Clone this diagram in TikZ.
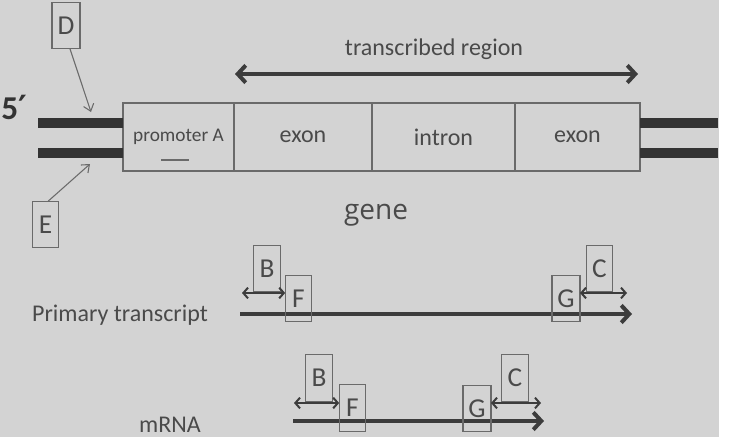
\documentclass[tikz,border=0pt]{standalone}
\usepackage{fontspec}
\setmainfont{Carlito}
\newfontfamily\genefont{Open Sans}
\newfontfamily\primefont{DejaVu Sans}
\usetikzlibrary{arrows.meta}
\definecolor{bggray}{HTML}{D3D3D3}
\definecolor{boxline}{HTML}{6A6A6A}
\definecolor{strandcol}{HTML}{333333}
\definecolor{arrowcol}{HTML}{3C3C3C}
\definecolor{txt}{HTML}{4A4A4A}
\tikzset{segbox/.style={
    rectangle,
    draw=boxline,
    line width=1.2pt,
    minimum height=51pt,
    inner sep=0pt,
    outer sep=0pt,
    text=txt,
    font=\fontsize{18}{20}\selectfont
  },
  lbox/.style={segbox,line width=0.9pt,minimum width=20pt,minimum height=35pt,
    font=\fontsize{20.5}{22}\selectfont},
  lbl/.style={text=txt,font=\fontsize{18}{20}\selectfont},
  strand/.style={draw=strandcol,line width=7.5pt},
  pointer/.style={draw=boxline,line width=0.8pt,-{Straight Barb[length=5pt,width=8pt]}},
  span/.style={draw=arrowcol,line width=3pt,
    {Straight Barb[length=6pt,width=13pt]}-{Straight Barb[length=6pt,width=13pt]}},
  track/.style={draw=arrowcol,line width=3pt,-{Straight Barb[length=6pt,width=13pt]}},
  piece/.style={draw=arrowcol,line width=1.5pt,
    {Straight Barb[length=3.5pt,width=8pt]}-{Straight Barb[length=3.5pt,width=8pt]}},
}
\begin{document}
\begin{tikzpicture}[x=0.75pt,y=-0.75pt]
  \fill[bggray] (0,0) rectangle (719,437);
  \useasboundingbox (0,0) rectangle (732,440);
  % gene
  \node [segbox,minimum width=83.25pt,font=\fontsize{14.5}{16}\selectfont] (promoter) at (178.5,137) {promoter A};
  \node [segbox,minimum width=103.5pt,anchor=west] (exon1) at (promoter.east) {exon};
  \node [segbox,minimum width=107.25pt,anchor=west] (intron) at (exon1.east) {intron};
  \node [segbox,minimum width=93.75pt,anchor=west] (exon2) at (intron.east) {exon};
  \draw[boxline,line width=0.8pt] (161,160) -- (189,160);
  \coordinate (l1) at (38,123);
  \coordinate (l2) at (38,153);
  \coordinate (r1) at (718,123);
  \coordinate (r2) at (718,153);
  \draw[strand] (l1) -- (l1 -| promoter.west);
  \draw[strand] (l2) -- (l2 -| promoter.west);
  \draw[strand] (exon2.east |- r1) -- (r1);
  \draw[strand] (exon2.east |- r2) -- (r2);
  \node [text=strandcol,font=\bfseries\fontsize{25}{27}\selectfont,anchor=west,inner sep=0pt] (five) at (1,107) {5{\primefont ′}};
  \node [lbox,minimum width=21pt] (D) at (66,25.5) {D};
  \node [lbox,minimum width=19pt] (E) at (45.5,224.5) {E};
  \coordinate (dtip) at (91,112);
  \coordinate (etip) at (90,164);
  \draw[pointer] ([xshift=3pt]D.south) -- (dtip);
  \draw[pointer] ([xshift=2pt]E.north) -- (etip);
  \coordinate (tl) at (235,74);
  \coordinate (tr) at (638,74);
  \draw[span] (tl) -- (tr);
  \node [lbl] (region) at (434,49) {transcribed region};
  \node [text=txt,font=\genefont\fontsize{21}{23}\selectfont] (gene) at (376,215) {gene};
  % primary transcript
  \node [lbl] (primary) at (120,315) {Primary transcript};
  \coordinate (p0) at (240,314);
  \coordinate (p1) at (632,314);
  \draw[track] (p0) -- (p1);
  \node [lbox] (B1) at (267,268.5) {B};
  \node [lbox] (F1) at (298.5,298.5) {F};
  \node [lbox,minimum width=21pt] (G1) at (566,298.5) {G};
  \node [lbox] (C1) at (599.5,268.5) {C};
  \coordinate (pb) at (242,293);
  \coordinate (pc) at (627,293);
  \draw[piece] (pb) -- (pb -| F1.west);
  \draw[piece] (pc -| G1.east) -- (pc);
  % mRNA
  \node [lbl] (mrna) at (170,425) {mRNA};
  \coordinate (m0) at (293,421);
  \coordinate (m1) at (544,421);
  \draw[track] (m0) -- (m1);
  \node [lbox] (B2) at (319,378) {B};
  \node [lbox] (F2) at (352.5,408) {F};
  \node [lbox,minimum width=21pt] (G2) at (477,408.5) {G};
  \node [lbox] (C2) at (515,378) {C};
  \coordinate (mb) at (294,403);
  \coordinate (mc) at (541,403);
  \draw[piece] (mb) -- (mb -| F2.west);
  \draw[piece] (mc -| G2.east) -- (mc);
\end{tikzpicture}
\end{document}
